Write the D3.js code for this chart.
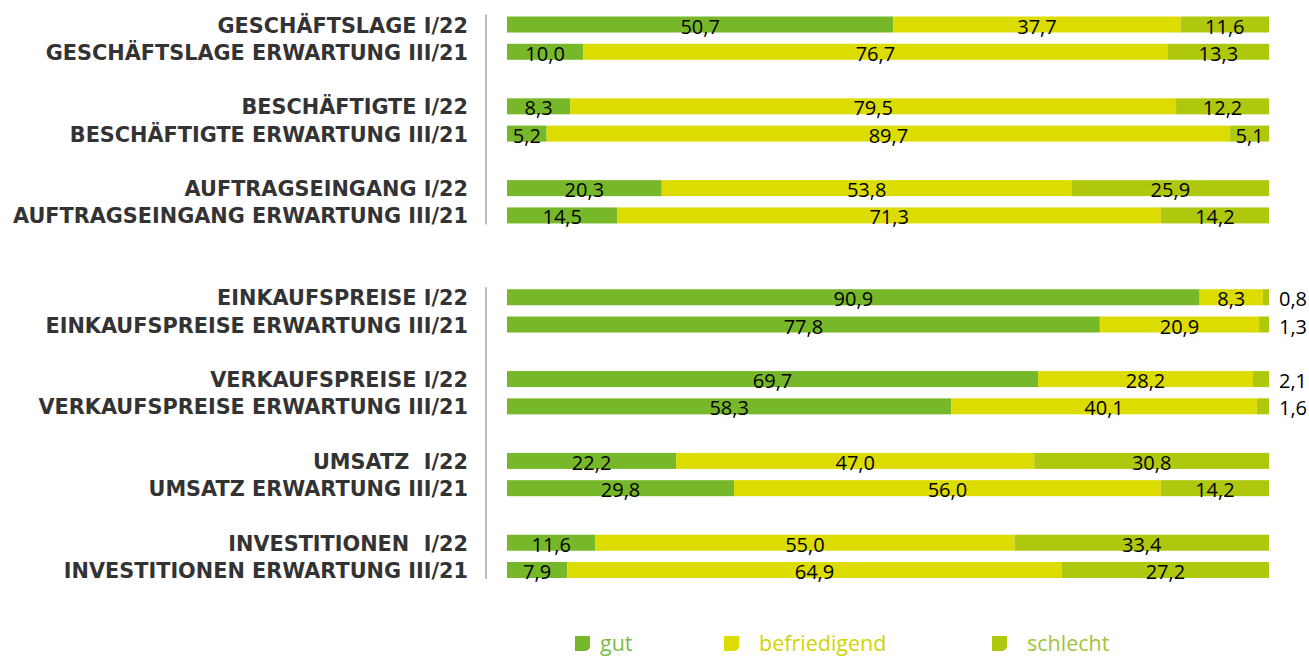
<!DOCTYPE html>
<html>
<head>
<meta charset="utf-8">
<script src="https://cdn.jsdelivr.net/npm/d3@7"></script>
<style>
  body { margin: 0; background: #fff; }
  svg { display: block; }
</style>
</head>
<body>
<div id="container"></div>
<script>
// Kategorien (Zeilen), leere Einträge sind Abstände zwischen den Gruppen
const categories = [
  'GESCHÄFTSLAGE I/22', 'GESCHÄFTSLAGE ERWARTUNG III/21', '',
  'BESCHÄFTIGTE I/22', 'BESCHÄFTIGTE ERWARTUNG III/21', '',
  'AUFTRAGSEINGANG I/22', 'AUFTRAGSEINGANG ERWARTUNG III/21', '', '',
  'EINKAUFSPREISE I/22', 'EINKAUFSPREISE ERWARTUNG III/21', '',
  'VERKAUFSPREISE I/22', 'VERKAUFSPREISE ERWARTUNG III/21', '',
  'UMSATZ  I/22', 'UMSATZ ERWARTUNG III/21', '',
  'INVESTITIONEN  I/22', 'INVESTITIONEN ERWARTUNG III/21'
];

const series = ['gut', 'befriedigend', 'schlecht'];

const gut          = [50.7, 10.0, null, 8.3, 5.2, null, 20.3, 14.5, null, null, 90.9, 77.8, null, 69.7, 58.3, null, 22.2, 29.8, null, 11.6, 7.9];
const befriedigend = [37.7, 76.7, null, 79.5, 89.7, null, 53.8, 71.3, null, null, 8.3, 20.9, null, 28.2, 40.1, null, 47.0, 56.0, null, 55.0, 64.9];
const schlecht     = [11.6, 13.3, null, 12.2, 5.1, null, 25.9, 14.2, null, null, 0.8, 1.3, null, 2.1, 1.6, null, 30.8, 14.2, null, 33.4, 27.2];

// Abschnitte für die senkrechten Trennlinien
const sections = [
  ['GESCHÄFTSLAGE I/22', 'AUFTRAGSEINGANG ERWARTUNG III/21'],
  ['EINKAUFSPREISE I/22', 'INVESTITIONEN ERWARTUNG III/21']
];

const WIDTH = 1309;
const HEIGHT = 656;

const colors = { gut: '#76b82a', befriedigend: '#dddc00', schlecht: '#afc80e' };
const legendText = { gut: '#7dbb45', befriedigend: '#d3d300', schlecht: '#9fc53a' };

const svg = d3.select('#container')
  .append('svg')
    .attr('width', WIDTH)
    .attr('height', HEIGHT);

// Zeilenpositionen (inkl. leerer Abstandszeilen)
const keys = categories.map((c, i) => 'r' + i);
const y = d3.scalePoint()
  .domain(keys)
  .range([24.5, 570]);

const x = d3.scaleLinear()
  .domain([0, 100])
  .range([507, 1269]);

const barH = 16;

const rows = categories.map((c, i) => ({
  key: 'r' + i, label: c,
  gut: gut[i], befriedigend: befriedigend[i], schlecht: schlecht[i]
})).filter(d => d.label !== '');

const stacked = d3.stack().keys(series)(rows);

// Balken
svg.append('g')
  .selectAll('g')
  .data(stacked)
  .join('g')
    .attr('fill', s => colors[s.key])
  .selectAll('rect')
  .data(s => s)
  .join('rect')
    .attr('x', d => x(d[0]))
    .attr('y', d => y(d.data.key) - barH / 2)
    .attr('width', d => x(d[1]) - x(d[0]))
    .attr('height', barH);

// Werte
const fmt = v => d3.format('.1f')(v).replace('.', ',');
svg.append('g')
  .attr('font-family', '"Open Sans", sans-serif')
  .attr('font-size', 20)
  .attr('fill', '#000')
  .selectAll('g')
  .data(stacked)
  .join('g')
  .selectAll('text')
  .data(s => s.map(d => ({ d, key: s.key })))
  .join('text')
    .attr('x', o => {
      const v = o.d[1] - o.d[0];
      return v < 3 ? x(100) + 10 : (x(o.d[0]) + x(o.d[1])) / 2;
    })
    .attr('text-anchor', o => (o.d[1] - o.d[0]) < 3 ? 'start' : 'middle')
    .attr('y', o => y(o.d.data.key) + 9)
    .text(o => fmt(o.d[1] - o.d[0]));

// Beschriftungen links
svg.append('g')
  .attr('font-family', '"DejaVu Sans", sans-serif')
  .attr('font-weight', 'bold')
  .attr('font-size', 20.8)
  .attr('fill', '#333')
  .attr('text-anchor', 'end')
  .selectAll('text')
  .data(rows)
  .join('text')
    .attr('x', 468)
    .attr('y', d => y(d.key) + 8)
    .style('white-space', 'pre')
    .text(d => d.label);

// senkrechte Linien
const keyOf = label => 'r' + categories.indexOf(label);
svg.append('g')
  .selectAll('line')
  .data(sections)
  .join('line')
    .attr('x1', 486).attr('x2', 486)
    .attr('y1', s => y(keyOf(s[0])) - 10)
    .attr('y2', s => y(keyOf(s[1])) + 9)
    .attr('stroke', '#777')
    .attr('stroke-width', 1);

// Legende
const legendX = d3.scaleOrdinal()
  .domain(series)
  .range([575, 724, 992]);
const legendGap = { gut: 25, befriedigend: 35, schlecht: 35 };

const legend = svg.append('g')
  .attr('transform', 'translate(0,636)');

legend.selectAll('path')
  .data(series)
  .join('path')
    .attr('transform', s => `translate(${legendX(s)},0)`)
    .attr('d', 'M0,0H15V10A5,5 0 0 1 10,15H0Z')
    .attr('fill', s => colors[s]);

legend.selectAll('text')
  .data(series)
  .join('text')
    .attr('x', s => legendX(s) + legendGap[s])
    .attr('y', 15)
    .attr('font-family', '"Open Sans", sans-serif')
    .attr('font-size', 21.5)
    .attr('fill', s => legendText[s])
    .text(s => s);
</script>
</body>
</html>
